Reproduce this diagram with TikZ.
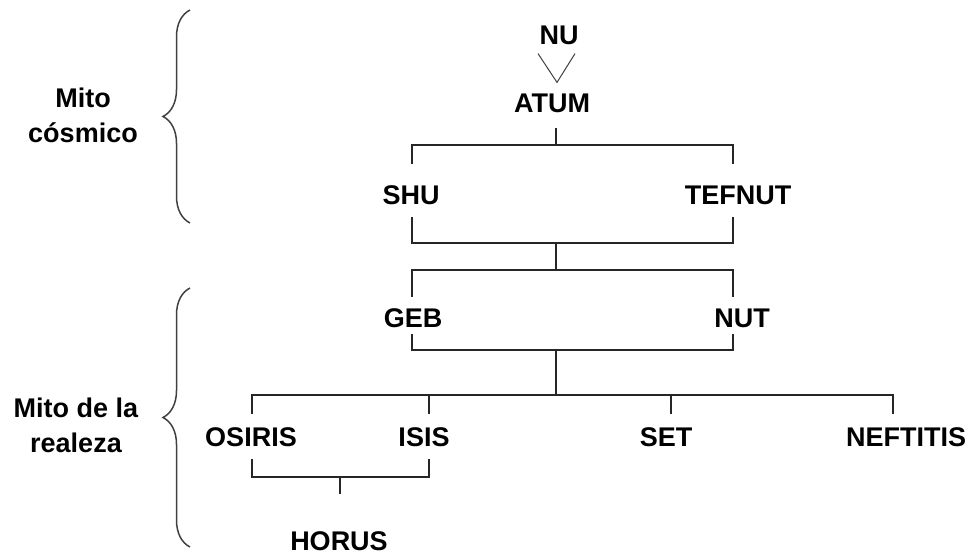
\documentclass[tikz,border=0pt]{standalone}
\usepackage{fontspec}
\setmainfont{Liberation Sans}
\usepackage{tikz}
\usetikzlibrary{decorations.pathreplacing,calc}
\tikzstyle{dios}=[inner sep=0pt,font=\fontsize{27}{35}\selectfont\bfseries]
\tikzstyle{mito}=[inner sep=0pt,align=center,font=\fontsize{27}{35}\selectfont\bfseries]
\tikzstyle{rama}=[line width=1.4pt,black!85]
\tikzstyle{llave}=[decorate,decoration={brace,amplitude=27pt},line width=1.5pt,black!75]

\begin{document}
\begin{tikzpicture}[x=1pt,y=-1pt]
      \useasboundingbox (0,0) rectangle (968,556);
      % braces
      \node[mito] at (83, 115) (cosmico) {Mito\\cósmico};
      \node[mito] at (76, 425) (realeza) {Mito de la\\realeza};
      \draw[llave] (190, 223) -- (190, 10);
      \draw[llave] (190, 547) -- (190, 288);
      % gods
      \node[dios] at (559, 35) (nu) {NU};
      \node[dios] at (552, 103) (atum) {ATUM};
      \node[dios] at (411, 195) (shu) {SHU};
      \node[dios] at (738, 195) (tefnut) {TEFNUT};
      \node[dios] at (413, 318) (geb) {GEB};
      \node[dios] at (742, 318) (nut) {NUT};
      \node[dios] at (251, 437) (osiris) {OSIRIS};
      \node[dios] at (424, 437) (isis) {ISIS};
      \node[dios] at (666, 437) (set) {SET};
      \node[dios] at (906, 437) (neftitis) {NEFTITIS};
      \node[dios] at (339, 541) (horus) {HORUS};
      \coordinate (c1) at (556, 145);
      \coordinate (c2) at (556, 243);
      \coordinate (c3) at (556, 270);
      \coordinate (c4) at (556, 350);
      \coordinate (c5) at (556, 395);
      \coordinate (c6) at (340, 477);
      % links
      \draw[line width=1pt,black!75] ($(nu.south)+(-21,9)$) -- ($(atum.north)+(5,-11)$) -- ($(nu.south)+(16,9)$);
      \draw[rama] (atum.south) ++(4,15) -- (c1);
      \draw[rama] (shu.north) ++(1,-21) |- (c1) -| ($(tefnut.north)+(-5,-21)$);
      \draw[rama] (shu.south) ++(1,12) |- (c2) -| ($(tefnut.south)+(-5,12)$);
      \draw[rama] (c2) -- (c3);
      \draw[rama] (geb.north) ++(-1,-11) |- (c3) -| ($(nut.north)+(-9,-11)$);
      \draw[rama] (geb.south) ++(-1,6) |- (c4) -| ($(nut.south)+(-9,6)$);
      \draw[rama] (c4) -- (c5);
      \draw[rama] (osiris.north) ++(1,-13) |- (c5) -| ($(neftitis.north)+(-13,-13)$);
      \draw[rama] (isis.north) ++(5,-13) -- ++(0,-19);
      \draw[rama] (set.north) ++(5,-13) -- ++(0,-19);
      \draw[rama] (osiris.south) ++(1,12) |- (c6) -| ($(isis.south)+(5,12)$);
      \draw[rama] (c6) -- ($(horus.north)+(1,-37)$);
\end{tikzpicture}
\end{document}
